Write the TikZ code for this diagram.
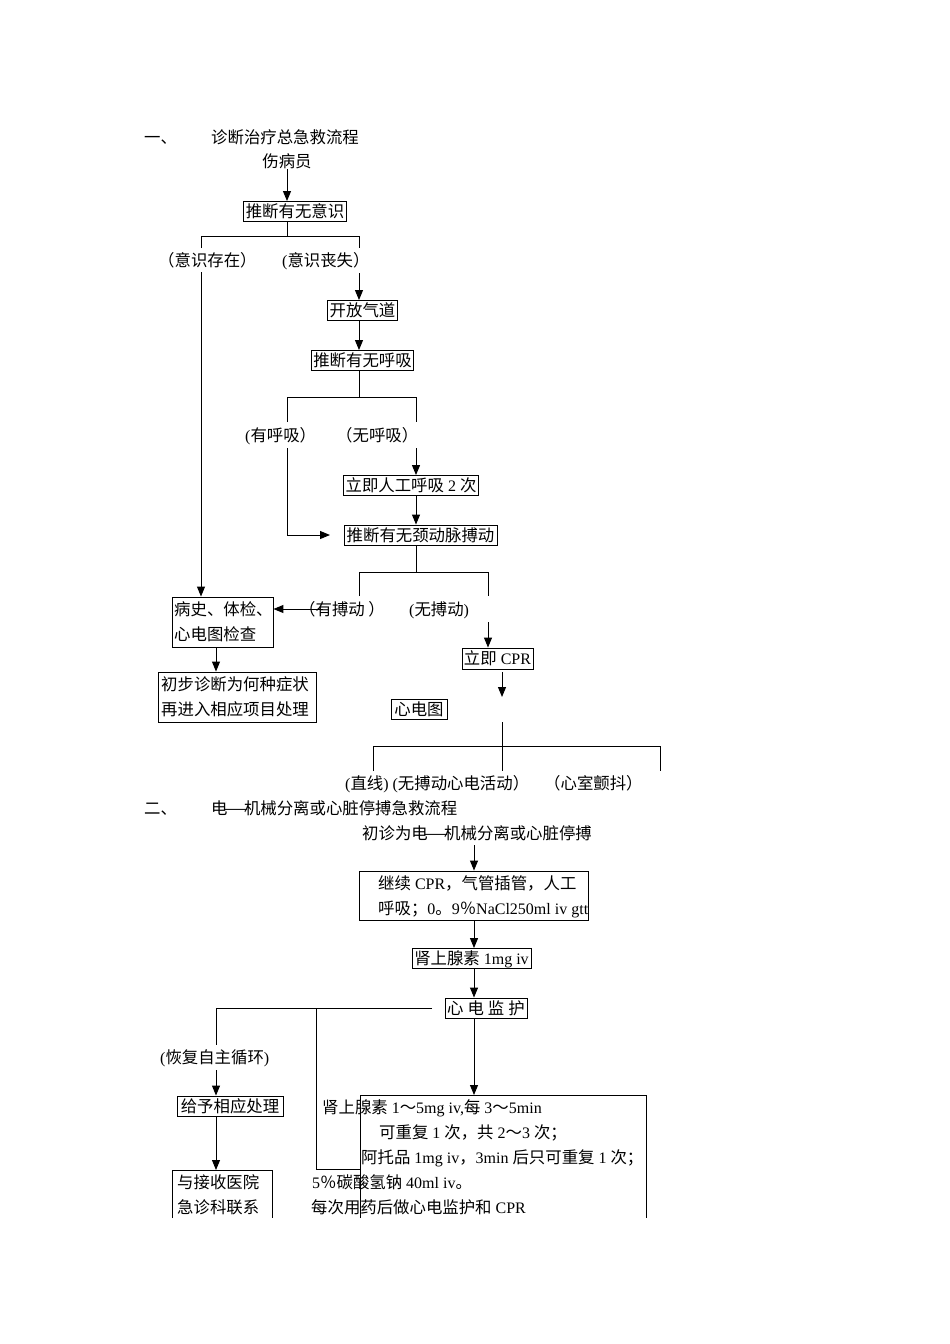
\documentclass[tikz,border=0pt]{standalone}
\usepackage{fontspec}
\setmainfont{Liberation Serif}
\newfontfamily\cjkf[Scale=1.025]{Noto Sans CJK SC}
\newcommand\Z[1]{{\cjkf #1}}
\newcommand\emd{\makebox[1em]{\scalebox{1.7}[1]{—}}}
\usetikzlibrary{arrows.meta}
\begin{document}
\begin{tikzpicture}[x=1pt,y=-1pt,
  every node/.style={font=\fontsize{16pt}{25pt}\selectfont, inner sep=0pt, text height=14pt, text depth=2pt},
  lbl/.style={anchor=west},
  bx/.style={draw, line width=0.9pt, inner sep=2pt, minimum height=20pt},
  ob/.style={line width=0.9pt},
  ln/.style={line width=1pt},
  ar/.style={line width=1pt, -{Triangle[length=10pt,width=8pt]}}]
\useasboundingbox (0,0) rectangle (950,1344);
% x guides
\coordinate (X201) at (201,0);
\coordinate (X216) at (216,0);
\coordinate (X287) at (287,0);
\coordinate (X359) at (359,0);
\coordinate (X416) at (416,0);
\coordinate (X474) at (474,0);
\coordinate (X488) at (488,0);
% ---------- part 1 ----------
\node[lbl] (h1a) at (144,137) {\Z{一、}};
\node[lbl] (h1b) at (211,137) {\Z{诊断治疗总急救流程}};
\node (n0) at (287,161) {\Z{伤病员}};
\node[bx, minimum width=102pt] (b1) at (295,211.5) {\Z{推断有无意识}};
\node[lbl] (l1) at (158,260) {\Z{（意识存在）}};
\node[lbl] (l2) at (282,260) {(\Z{意识丧失）}};
\node[bx, minimum width=69pt] (b2) at (362.5,310.5) {\Z{开放气道}};
\node[bx, minimum width=101pt] (b3) at (362.5,360.5) {\Z{推断有无呼吸}};
\node[lbl] (l3) at (245,435) {(\Z{有呼吸）}};
\node[lbl] (l4) at (336,435) {\Z{（无呼吸）}};
\node[bx, minimum width=134pt] (b4) at (411,485.5) {\Z{立即人工呼吸} 2 \Z{次}};
\node[bx, minimum width=153pt] (b5) at (420.5,535) {\Z{推断有无颈动脉搏动}};
\node[lbl] (l5) at (299,609) {\Z{（有搏动 ）}};
\node[lbl] (l6) at (409,609) {(\Z{无搏动})};
\node[bx, minimum width=101pt, minimum height=50pt] (b6) at (222.5,622) {};
\node[lbl] (b6a) at (174,609) {\Z{病史、体检、}};
\node[lbl] (b6b) at (174,634) {\Z{心电图检查}};
\node[bx, minimum width=158pt, minimum height=50pt] (b7) at (237,697) {};
\node[lbl] (b7a) at (161,684) {\Z{初步诊断为何种症状}};
\node[lbl] (b7b) at (161,709) {\Z{再进入相应项目处理}};
\node[bx, minimum width=69pt, minimum height=21pt] (b8) at (497.5,658.5) {\Z{立即} CPR};
\node[bx, minimum width=56pt] (b9) at (419,709) {\Z{心电图}};
\node[lbl] (l7) at (345,783) {(\Z{直线}) (\Z{无搏动心电活动）}};
\node[lbl] (l8) at (544,783) {\Z{（心室颤抖）}};
% connectors part 1
\draw[ar] (n0.south) -- (n0.south |- b1.north);
\coordinate (j1) at (287,236);
\coordinate (j1l) at (201,236);
\coordinate (j1r) at (359,236);
\coordinate (j1le) at (201,248);
\coordinate (j1re) at (359,248);
\draw[ln] (X287 |- b1.south) -- (j1);
\draw[ln] (j1le) -- (j1l) -- (j1r) -- (j1re);
\coordinate (a1) at (201,272);
\draw[ar] (a1) -- (X201 |- b6.north);
\coordinate (a2) at (359,273);
\draw[ar] (a2) -- (X359 |- b2.north);
\draw[ar] (X359 |- b2.south) -- (X359 |- b3.north);
\coordinate (j2) at (359,397);
\coordinate (j2l) at (287,397);
\coordinate (j2r) at (416,397);
\coordinate (j2le) at (287,422);
\coordinate (j2re) at (416,422);
\draw[ln] (X359 |- b3.south) -- (j2);
\draw[ln] (j2le) -- (j2l) -- (j2r) -- (j2re);
\coordinate (a3) at (416,448);
\draw[ar] (a3) -- (X416 |- b4.north);
\draw[ar] (X416 |- b4.south) -- (X416 |- b5.north);
\coordinate (a4) at (287,448);
\coordinate (a4c) at (287,535);
\coordinate (a4e) at (330,535);
\draw[ar] (a4) -- (a4c) -- (a4e);
\coordinate (j3) at (416,572);
\coordinate (j3l) at (359,572);
\coordinate (j3r) at (488,572);
\coordinate (j3le) at (359,596);
\coordinate (j3re) at (488,596);
\draw[ln] (X416 |- b5.south) -- (j3);
\draw[ln] (j3le) -- (j3l) -- (j3r) -- (j3re);
\coordinate (a5) at (323,609);
\draw[ar] (a5) -- (b6.east |- a5);
\draw[ar] (X216 |- b6.south) -- (X216 |- b7.north);
\coordinate (a6) at (488,622);
\draw[ar] (a6) -- (X488 |- b8.north);
\coordinate (a7s) at (502,672);
\coordinate (a7e) at (502,697);
\draw[ar] (a7s) -- (a7e);
\coordinate (j4t) at (502,722);
\coordinate (j4b) at (502,771);
\coordinate (j4l) at (373,746);
\coordinate (j4r) at (660,746);
\coordinate (j4le) at (373,771);
\coordinate (j4re) at (660,771);
\draw[ln] (j4t) -- (j4b);
\draw[ln] (j4le) -- (j4l) -- (j4r) -- (j4re);
% ---------- part 2 ----------
\node[lbl] (h2a) at (144,808) {\Z{二、}};
\node[lbl] (h2b) at (211,808) {\Z{电\emd 机械分离或心脏停搏急救流程}};
\node[lbl] (n20) at (362,833) {\Z{初诊为电\emd 机械分离或心脏停搏}};
\node[bx, minimum width=229pt, minimum height=49pt] (b10) at (473.5,895.5) {};
\node[lbl] (b10a) at (378,883) {\Z{继续} CPR\Z{，气管插管，人工}};
\node[lbl] (b10b) at (378,908) {\Z{呼吸；}0\Z{。}9\Z{％}NaCl250ml iv gtt};
\node[bx, minimum width=119pt, minimum height=19pt] (b11) at (471.5,958.5) {\Z{肾上腺素} 1mg iv};
\node[bx, minimum width=82pt] (b12) at (486,1008) {\Z{心} \Z{电} \Z{监} \Z{护}};
\node[lbl] (l9) at (160,1057) {(\Z{恢复自主循环})};
\node[bx, minimum width=106pt] (b13) at (230,1106) {\Z{给予相应处理}};
% open boxes
\draw[ob] (172,1218) -- (172,1170) -- (272,1170) -- (272,1218);
\coordinate (b14top) at (216,1170);
\node[lbl] (b14a) at (177,1182) {\Z{与接收医院}};
\node[lbl] (b14b) at (177,1207) {\Z{急诊科联系}};
\draw[ob] (360,1218) -- (360,1095) -- (646,1095) -- (646,1218);
\coordinate (b15top) at (474,1095);
\node[lbl] (t1) at (322,1107) {\Z{肾上腺素} 1\Z{～}5mg iv,\Z{每} 3\Z{～}5min};
\node[lbl] (t2) at (379,1132) {\Z{可重复} 1 \Z{次，共} 2\Z{～}3 \Z{次；}};
\node[lbl] (t3) at (361,1157) {\Z{阿托品} 1mg iv\Z{，}3min \Z{后只可重复} 1 \Z{次；}};
\node[lbl] (t4) at (312,1182) {5\Z{％碳酸氢钠} 40ml iv\Z{。}};
\node[lbl] (t5) at (311,1207) {\Z{每次用药后做心电监护和} CPR};
% connectors part 2
\coordinate (a8) at (474,845);
\draw[ar] (a8) -- (X474 |- b10.north);
\draw[ar] (X474 |- b10.south) -- (X474 |- b11.north);
\draw[ar] (X474 |- b11.south) -- (X474 |- b12.north);
\coordinate (j5) at (432,1008);
\coordinate (j5l) at (216,1008);
\coordinate (j5le) at (216,1045);
\coordinate (j5m) at (316,1008);
\coordinate (j5mb) at (316,1169);
\coordinate (j5me) at (360,1169);
\draw[ln] (j5) -- (j5l) -- (j5le);
\draw[ln] (j5m) -- (j5mb) -- (j5me);
\coordinate (a9) at (216,1070);
\draw[ar] (a9) -- (X216 |- b13.north);
\draw[ar] (X474 |- b12.south) -- (b15top);
\draw[ar] (X216 |- b13.south) -- (b14top);
\end{tikzpicture}
\end{document}
